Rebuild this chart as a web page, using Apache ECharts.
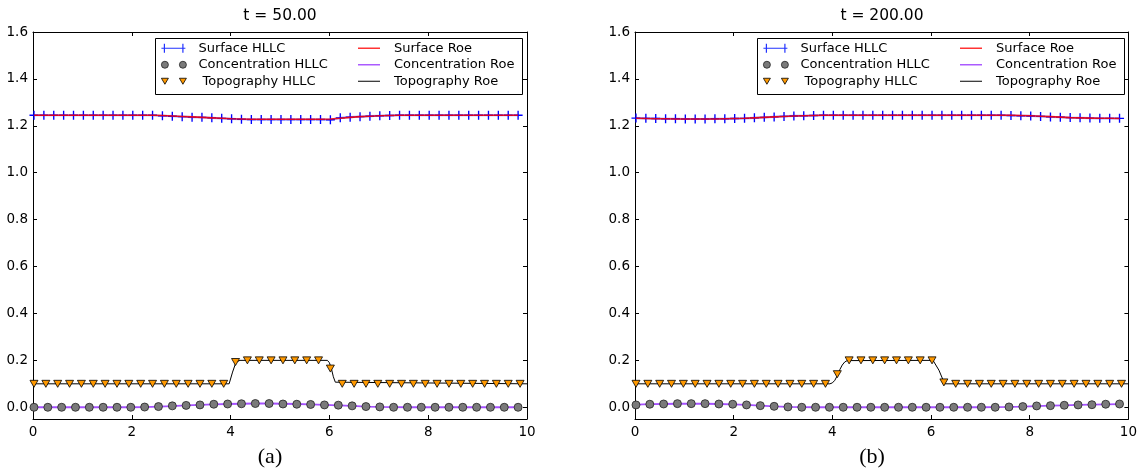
<!DOCTYPE html>
<html>
<head>
<meta charset="utf-8">
<script src="https://cdn.jsdelivr.net/npm/echarts@6/dist/echarts.min.js"></script>
<style>
html,body{margin:0;padding:0;background:#fff;}
#chart{width:1140px;height:469px;}
</style>
</head>
<body>
<div id="chart"></div>
<script>
// ---------- data ----------
const panelTitles = ['t = 50.00', 't = 200.00'];
const panelCaptions = ['(a)', '(b)'];
const yTicks = [0, 0.2, 0.4, 0.6, 0.8, 1.0, 1.2, 1.4, 1.6];
const legendHLLC = ['Surface HLLC', 'Concentration HLLC', ' Topography HLLC'];
const legendRoe = ['Surface Roe', 'Concentration Roe', 'Topography Roe'];

const surfX = [0.02,0.22,0.42,0.62,0.82,1.02,1.22,1.42,1.62,1.82,2.02,2.22,2.42,2.62,2.82,3.02,3.22,3.42,3.62,3.82,
  4.02,4.22,4.42,4.62,4.82,5.02,5.22,5.42,5.62,5.82,6.02,6.22,6.42,6.62,6.82,7.02,7.22,7.42,7.62,7.82,
  8.02,8.22,8.42,8.62,8.82,9.02,9.22,9.42,9.62,9.82];
const concX = [0.02,0.30,0.58,0.86,1.14,1.42,1.70,1.98,2.26,2.54,2.82,3.10,3.38,3.66,3.94,4.22,4.50,4.78,
  5.06,5.34,5.62,5.90,6.18,6.46,6.74,7.02,7.30,7.58,7.86,8.14,8.42,8.70,8.98,9.26,9.54,9.82];
const topoX = [0.02,0.26,0.50,0.74,0.98,1.22,1.46,1.70,1.94,2.18,2.42,2.66,2.90,3.14,3.38,3.62,3.86,4.10,4.34,4.58,4.82,
  5.06,5.30,5.54,5.78,6.02,6.26,6.50,6.74,6.98,7.22,7.46,7.70,7.94,8.18,8.42,8.66,8.90,9.14,9.38,9.62,9.86];

// panel (a), t = 50
const surfHllcA = [1.245,1.245,1.245,1.245,1.245,1.245,1.245,1.245,1.245,1.245,1.245,1.245,1.245,
  1.243,1.241,1.239,1.237,1.236,1.234,1.232,1.230,1.228,
  1.227,1.227,1.227,1.227,1.227,1.227,1.227,1.227,1.226,
  1.234,1.237,1.239,1.241,1.243,1.244,
  1.245,1.245,1.245,1.245,1.245,1.245,1.245,1.245,1.245,1.245,1.245,1.245,1.245];
const surfRoeA = [1.245,1.245,1.245,1.245,1.245,1.245,1.245,1.245,1.245,1.245,1.245,1.245,1.245,
  1.244,1.242,1.240,1.238,1.236,1.234,1.232,1.230,1.229,
  1.228,1.228,1.228,1.228,1.228,1.228,1.228,1.228,1.229,
  1.232,1.236,1.239,1.241,1.243,1.244,
  1.245,1.245,1.245,1.245,1.245,1.245,1.245,1.245,1.245,1.245,1.245,1.245,1.245];
const concHllcA = [0,0,0,0,0,0,0,0,0.001,0.003,0.006,0.008,0.010,0.013,0.014,0.015,0.016,0.016,
  0.014,0.013,0.012,0.010,0.009,0.006,0.003,0.0015,0,0,0,0,0,0,0,0,0,0];
const concRoeA = [0,0,0,0,0,0,0,0,0.001,0.003,0.005,0.008,0.010,0.012,0.014,0.015,0.016,0.016,
  0.015,0.014,0.012,0.010,0.008,0.006,0.003,0.0015,0.0005,0,0,0,0,0,0,0,0,0];
const topoHllcA = [0.1,0.1,0.1,0.1,0.1,0.1,0.1,0.1,0.1,0.1,0.1,0.1,0.1,0.1,0.1,0.1,0.1,
  0.193,0.2,0.2,0.2,0.2,0.2,0.2,0.2,0.165,
  0.1,0.1,0.1,0.1,0.1,0.1,0.1,0.1,0.1,0.1,0.1,0.1,0.1,0.1,0.1,0.1];
const topoRoeXA = [0, 3.97, 4.04, 4.11, 4.15, 4.19, 5.96, 6.00, 6.04, 6.08, 6.12, 6.16, 10];
const topoRoeA  = [0.1, 0.1, 0.15, 0.193, 0.199, 0.2, 0.2, 0.19, 0.165, 0.13, 0.107, 0.1, 0.1];

// panel (b), t = 200
const surfHllcB = [1.233,1.232,1.231,1.230,1.230,1.229,1.229,1.229,1.230,1.230,1.231,1.232,1.234,1.236,1.238,1.240,1.242,1.243,1.244,1.245,
  1.245,1.245,1.245,1.245,1.245,1.245,1.245,1.245,1.245,1.245,1.245,1.245,1.245,1.245,1.245,1.245,1.245,1.245,
  1.244,1.243,1.242,1.240,1.238,1.237,1.235,1.234,1.233,1.232,1.232,1.232];
const surfRoeB = [1.232,1.231,1.230,1.230,1.229,1.229,1.229,1.229,1.229,1.230,1.231,1.232,1.234,1.236,1.238,1.240,1.242,1.243,1.244,1.245,
  1.245,1.245,1.245,1.245,1.245,1.245,1.245,1.245,1.245,1.245,1.245,1.245,1.245,1.245,1.245,1.245,1.245,1.245,
  1.245,1.244,1.243,1.241,1.239,1.237,1.235,1.234,1.233,1.232,1.232,1.231];
const concHllcB = [0.010,0.013,0.014,0.0155,0.0155,0.0155,0.014,0.013,0.010,0.007,0.004,0.0015,
  0,0,0,0,0,0,0,0,0,0,0,0,0,0,0,
  0.0014,0.003,0.0057,0.007,0.0085,0.010,0.011,0.013,0.014];
const concRoeB = [0.011,0.013,0.014,0.015,0.0155,0.015,0.014,0.012,0.010,0.007,0.004,0.0015,
  0.0005,0,0,0,0,0,0,0,0,0,0,0,0,0,0.0005,
  0.0015,0.003,0.005,0.007,0.0085,0.010,0.011,0.012,0.013];
const topoHllcB = [0.1,0.1,0.1,0.1,0.1,0.1,0.1,0.1,0.1,0.1,0.1,0.1,0.1,0.1,0.1,0.1,0.1,
  0.141,0.2,0.2,0.2,0.2,0.2,0.2,0.2,0.2,0.106,
  0.1,0.1,0.1,0.1,0.1,0.1,0.1,0.1,0.1,0.1,0.1,0.1,0.1,0.1,0.1];
const topoRoeXB = [0, 3.95, 4.00, 4.05, 4.10, 4.15, 4.20, 4.25, 4.30, 4.34, 6.04, 6.08, 6.16, 6.24, 6.28, 10];
const topoRoeB  = [0.1, 0.1, 0.104, 0.115, 0.135, 0.16, 0.18, 0.193, 0.199, 0.2, 0.2, 0.195, 0.158, 0.118, 0.1, 0.1];

// ---------- build ----------
const panels = [
  {surfHllc: surfHllcA, surfRoe: surfRoeA, concHllc: concHllcA, concRoe: concRoeA, topoHllc: topoHllcA, topoRoeX: topoRoeXA, topoRoe: topoRoeA},
  {surfHllc: surfHllcB, surfRoe: surfRoeB, concHllc: concHllcB, concRoe: concRoeB, topoHllc: topoHllcB, topoRoeX: topoRoeXB, topoRoe: topoRoeB}
];
const zip = (xs, ys) => xs.map((x, i) => [x, ys[i]]);

const FONT = 'DejaVu Sans';
const gridLefts = [33, 635];
const gridW = 494, gridTop = 32, gridH = 387;

const crossPath = 'path://M0,3.4H8V4.6H0Z M3.4,0H4.6V8H3.4Z';

function xAx(g, pos, showLabel) {
  return {
    type: 'value', gridIndex: g, position: pos, min: 0, max: 10, interval: 2,
    axisLine: {show: true, onZero: false, lineStyle: {color: '#000', width: 1}},
    axisTick: {show: true, inside: true, length: 4, lineStyle: {color: '#000', width: 1}},
    axisLabel: {show: showLabel, color: '#000', fontSize: 13.5, fontFamily: FONT, margin: 6},
    splitLine: {show: false}
  };
}
function yAx(g, pos, showLabel) {
  return {
    type: 'value', gridIndex: g, position: pos, min: -0.05, max: 1.6,
    axisLine: {show: true, onZero: false, lineStyle: {color: '#000', width: 1}},
    axisTick: {show: true, inside: true, length: 4, customValues: yTicks, lineStyle: {color: '#000', width: 1}},
    axisLabel: {show: showLabel, customValues: yTicks, color: '#000', fontSize: 13.5, fontFamily: FONT, margin: 5,
      formatter: v => Number(v).toFixed(1)},
    splitLine: {show: false}
  };
}

const grids = [], xAxes = [], yAxes = [], series = [], legends = [], graphics = [];
panels.forEach((p, g) => {
  const L = gridLefts[g];
  grids.push({left: L, top: gridTop, width: gridW, height: gridH, containLabel: false});
  xAxes.push(xAx(g, 'bottom', true));
  xAxes.push(xAx(g, 'top', false));
  yAxes.push(yAx(g, 'left', true));
  yAxes.push(yAx(g, 'right', false));
  const xi = g * 2, yi = g * 2;
  series.push(
    {name: 'Surface Roe', type: 'line', xAxisIndex: xi, yAxisIndex: yi, data: zip(surfX, p.surfRoe),
      symbol: 'none', lineStyle: {color: 'rgba(255,0,0,0.85)', width: 1.6}, z: 4, silent: true},
    {name: 'Surface HLLC', type: 'line', xAxisIndex: xi, yAxisIndex: yi, data: zip(surfX, p.surfHllc),
      symbol: crossPath, symbolSize: 9, showSymbol: true, itemStyle: {color: '#0000ff'},
      lineStyle: {color: 'rgba(40,60,255,0.45)', width: 2.2}, z: 3, silent: true},
    {name: 'Concentration Roe', type: 'line', xAxisIndex: xi, yAxisIndex: yi, data: zip(concX, p.concRoe),
      symbol: 'none', lineStyle: {color: 'rgba(150,50,255,0.85)', width: 1.8}, z: 3, silent: true},
    {name: 'Concentration HLLC', type: 'scatter', xAxisIndex: xi, yAxisIndex: yi, data: zip(concX, p.concHllc),
      symbol: 'circle', symbolSize: 8,
      itemStyle: {color: '#7a7a7a', borderColor: '#222', borderWidth: 0.8, opacity: 1}, z: 5, silent: true},
    {name: 'Topography Roe', type: 'line', xAxisIndex: xi, yAxisIndex: yi, data: zip(p.topoRoeX, p.topoRoe),
      symbol: 'none', lineStyle: {color: '#000', width: 1}, z: 3, silent: true},
    {name: ' Topography HLLC', type: 'scatter', xAxisIndex: xi, yAxisIndex: yi, data: zip(topoX, p.topoHllc),
      symbol: 'triangle', symbolRotate: 180, symbolSize: [8, 7],
      itemStyle: {color: '#ff9900', borderColor: '#000', borderWidth: 0.8, opacity: 1}, z: 5, silent: true}
  );

  const off = L - 33;
  const legText = {fontSize: 13, fontFamily: FONT, color: '#000', lineHeight: 16.5};
  legends.push({
    orient: 'vertical', left: 161 + off, top: 40, itemGap: 0, padding: 0, itemWidth: 32, itemHeight: 10,
    selectedMode: false, z: 10, textStyle: legText,
    data: [
      {name: legendHLLC[0], icon: 'path://M0,0L0,0ZM32,10L32,10ZM0,4.4H24V5.6H0ZM2.4,0.5H3.6V9.5H2.4ZM20.9,0.5H22.1V9.5H20.9Z',
        itemStyle: {color: '#2233ff', borderWidth: 0}},
      {name: legendHLLC[1], icon: 'path://M0,0L0,0ZM32,10L32,10ZM0,5A3.5,3.5,0,1,0,7,5A3.5,3.5,0,1,0,0,5ZM18,5A3.5,3.5,0,1,0,25,5A3.5,3.5,0,1,0,18,5Z',
        itemStyle: {color: '#7a7a7a', borderColor: '#222', borderWidth: 0.8}},
      {name: legendHLLC[2], icon: 'path://M0,0L0,0ZM32,10L32,10ZM0,2H7L3.5,8ZM18,2H25L21.5,8Z',
        itemStyle: {color: '#ff9900', borderColor: '#000', borderWidth: 0.8}}
    ]
  });
  legends.push({
    orient: 'vertical', left: 358 + off, top: 40, itemGap: 0, padding: 0, itemWidth: 31, itemHeight: 10,
    selectedMode: false, z: 10, textStyle: legText,
    data: [
      {name: legendRoe[0], icon: 'path://M0,0L0,0ZM31,10L31,10ZM0,4.2H22V5.8H0Z', itemStyle: {color: 'rgba(255,0,0,0.8)', borderWidth: 0}},
      {name: legendRoe[1], icon: 'path://M0,0L0,0ZM31,10L31,10ZM0,4.2H22V5.8H0Z', itemStyle: {color: 'rgba(150,50,255,0.8)', borderWidth: 0}},
      {name: legendRoe[2], icon: 'path://M0,0L0,0ZM31,10L31,10ZM0,4.5H22V5.5H0Z', itemStyle: {color: '#000', borderWidth: 0}}
    ]
  });
  graphics.push(
    {type: 'rect', z: 8, shape: {x: 155.5 + off, y: 38.5, width: 367, height: 56},
      style: {fill: '#fff', stroke: '#000', lineWidth: 1}},
    {type: 'text', x: L + gridW / 2, y: 16,
      style: {text: panelTitles[g], fontSize: 15.5, fontFamily: FONT, fill: '#000', align: 'center', verticalAlign: 'middle'}},
    {type: 'text', x: L + 237, y: 457,
      style: {text: panelCaptions[g], fontSize: 22, fontFamily: '"Liberation Serif", "DejaVu Serif", serif', fill: '#000', align: 'center', verticalAlign: 'middle'}}
  );
});

const chart = echarts.init(document.getElementById('chart'), null, {renderer: 'canvas'});
chart.setOption({
  animation: false,
  backgroundColor: '#fff',
  textStyle: {fontFamily: FONT},
  grid: grids,
  xAxis: xAxes,
  yAxis: yAxes,
  legend: legends,
  series: series,
  graphic: {elements: graphics}
});
</script>
</body>
</html>
